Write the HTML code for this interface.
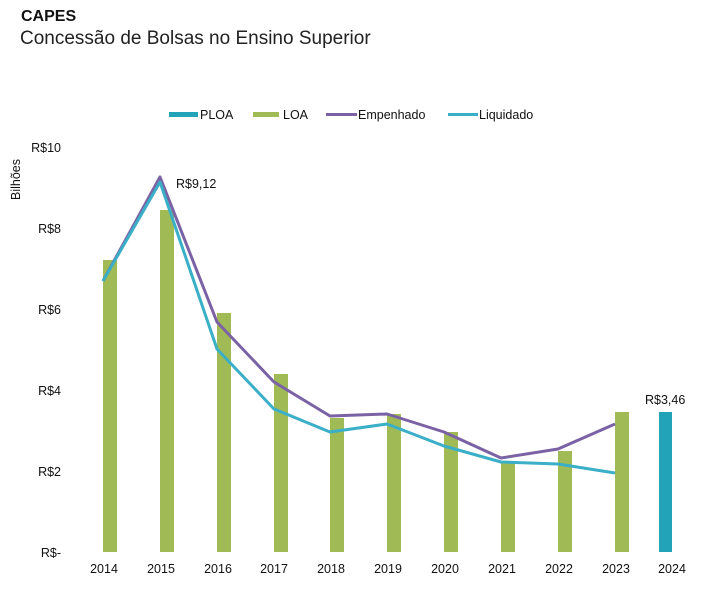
<!DOCTYPE html><html><head><meta charset="utf-8"><style>body{margin:0;background:#fff;width:709px;height:586px;overflow:hidden;font-family:"Liberation Sans",sans-serif}</style></head><body>
<svg width="709" height="586" xmlns="http://www.w3.org/2000/svg" font-family="Liberation Sans, sans-serif">
<text x="21" y="21" font-size="16" font-weight="bold" fill="#111">CAPES</text>
<text x="20" y="44" font-size="19" fill="#222">Concessão de Bolsas no Ensino Superior</text>
<rect x="169" y="112" width="29" height="5" fill="#22a3b8"/><text x="200" y="119" font-size="12.5" fill="#111">PLOA</text>
<rect x="253" y="112" width="26" height="5" fill="#a0bb55"/><text x="283" y="119" font-size="12.5" fill="#111">LOA</text>
<line x1="326" y1="114.5" x2="357" y2="114.5" stroke="#7b62a5" stroke-width="3"/><text x="358" y="119" font-size="12.5" fill="#111">Empenhado</text>
<line x1="448" y1="114.5" x2="478" y2="114.5" stroke="#3aafc7" stroke-width="3"/><text x="479" y="119" font-size="12.5" fill="#111">Liquidado</text>
<text transform="translate(20,200) rotate(-90)" font-size="12.5" fill="#111">Bilhões</text>
<g font-size="12.5" fill="#111" text-anchor="end">
<text x="61" y="152">R$10</text><text x="61" y="233">R$8</text><text x="61" y="314">R$6</text><text x="61" y="395">R$4</text><text x="61" y="476">R$2</text><text x="61" y="557">R$-</text></g>
<g fill="#a0bb55">
<rect x="103" y="260" width="14" height="292"/><rect x="160" y="210" width="14" height="342"/><rect x="217" y="313" width="14" height="239"/><rect x="274" y="374" width="14" height="178"/><rect x="330" y="418" width="14" height="134"/><rect x="387" y="414" width="14" height="138"/><rect x="444" y="432" width="14" height="120"/><rect x="501" y="462" width="14" height="90"/><rect x="558" y="451" width="14" height="101"/><rect x="615" y="412" width="14" height="140"/></g>
<rect x="659" y="412" width="13" height="140" fill="#22a3b8"/>
<polyline fill="none" stroke="#7b62a5" stroke-width="3" stroke-linejoin="round" points="103,281 160,177 217,322 274,382 330,416 387,414 444,432 501,458 558,449 615,424"/>
<polyline fill="none" stroke="#3aafc7" stroke-width="3" stroke-linejoin="round" points="103,281 160,182 217,349 274,409 330,432 387,424 444,446 501,462 558,464 615,473"/>
<text x="176" y="188" font-size="12.5" fill="#111">R$9,12</text>
<text x="645" y="404" font-size="12.5" fill="#111">R$3,46</text>
<g font-size="12.5" fill="#111" text-anchor="middle">
<text x="104" y="573">2014</text><text x="161" y="573">2015</text><text x="218" y="573">2016</text><text x="274" y="573">2017</text><text x="331" y="573">2018</text><text x="388" y="573">2019</text><text x="445" y="573">2020</text><text x="502" y="573">2021</text><text x="559" y="573">2022</text><text x="616" y="573">2023</text><text x="672" y="573">2024</text></g>
</svg></body></html>
